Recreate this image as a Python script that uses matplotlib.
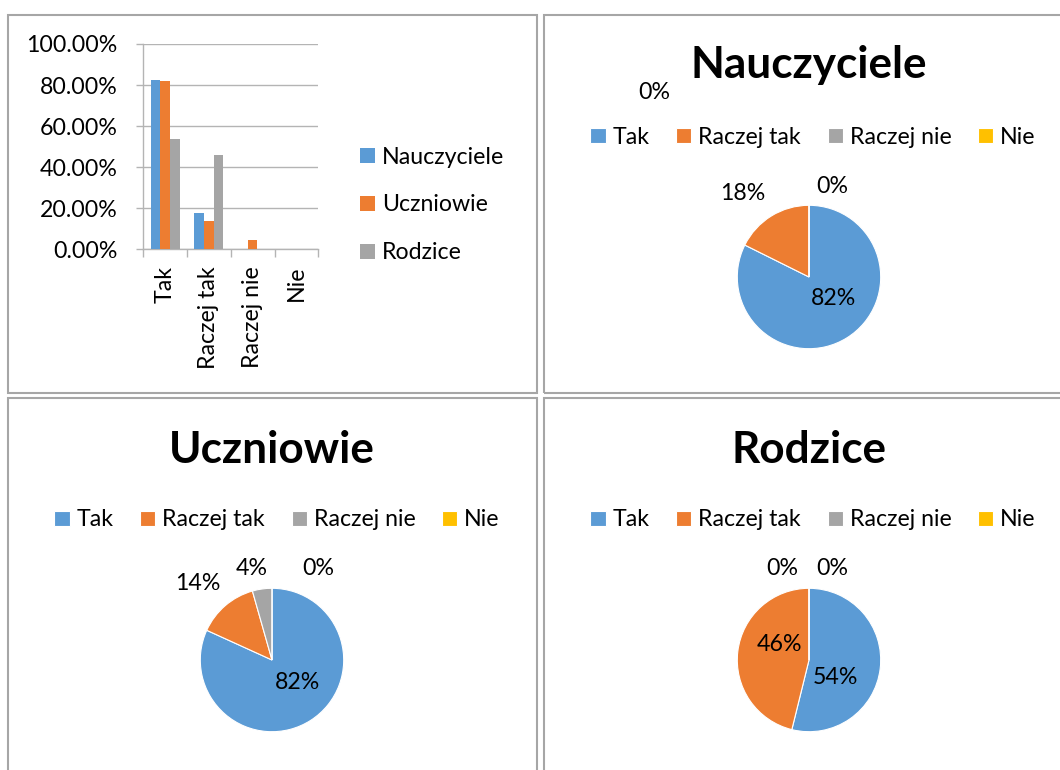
import matplotlib
matplotlib.use('Agg')
import matplotlib.pyplot as plt
from matplotlib.patches import Rectangle
import numpy as np

plt.rcParams['font.family'] = ['Lato', 'DejaVu Sans']

# data
categories = ['Tak', 'Raczej tak', 'Raczej nie', 'Nie']
groups = ['Nauczyciele', 'Uczniowie', 'Rodzice']
nauczyciele = [82.35, 17.65, 0.0, 0.0]
uczniowie = [81.8, 13.8, 4.4, 0.0]
rodzice = [53.85, 46.15, 0.0, 0.0]
series = [nauczyciele, uczniowie, rodzice]

colors = ['#5B9BD5', '#ED7D31', '#A5A5A5', '#FFC000']
border = '#a6a6a6'
grid = '#b4b4b4'

W, H = 1060, 770
FS = 16.7


def rect(x0, y0, x1, y1):
    # pixel box (top-left origin) -> figure fraction
    return [x0 / W, 1 - y1 / H, (x1 - x0) / W, (y1 - y0) / H]


fig = plt.figure(figsize=(W / 100, H / 100), dpi=100)

# panel frames
for x0, y0, x1, y1 in [(8, 15, 537, 393), (544, 15, 1075, 393),
                       (8, 398, 537, 790), (544, 398, 1075, 790)]:
    r = rect(x0, y0, x1, y1)
    fig.add_artist(Rectangle((r[0], r[1]), r[2], r[3], transform=fig.transFigure,
                             fill=False, edgecolor=border, linewidth=1.5))

# bar chart
ax = fig.add_axes(rect(143.3, 44, 318.3, 249.3))
x = np.arange(len(categories))
bw = 0.22
handles = []
for i, (name, vals) in enumerate(zip(groups, series)):
    b = ax.bar(x + (i - 1) * bw, np.array(vals) / 100, width=bw, color=colors[i],
               label=name, zorder=3)
    handles.append(b)
ax.set_xlim(-0.5, len(categories) - 0.5)
ax.set_ylim(0, 1)
ax.set_yticks(np.arange(0, 1.01, 0.2))
ax.set_yticklabels(['%.2f%%' % (v * 100) for v in np.arange(0, 1.01, 0.2)], fontsize=FS)
ax.tick_params(axis='y', length=5, color=grid, pad=13.5, width=1)
ax.set_xticks(x)
ax.set_xticklabels(categories, rotation=90, fontsize=FS, va='top')
ax.set_xticks(np.arange(-0.5, len(categories)), minor=True)
ax.tick_params(axis='x', which='major', length=0, pad=12)
ax.tick_params(axis='x', which='minor', length=6, color=grid, width=1)
ax.yaxis.grid(True, color=grid, linewidth=1, zorder=0)
for s in ['top', 'right']:
    ax.spines[s].set_visible(False)
for s in ['left', 'bottom']:
    ax.spines[s].set_color(grid)
    ax.spines[s].set_linewidth(1)
ax.set_facecolor('none')

fig.legend(handles=handles, loc='center left',
           bbox_to_anchor=(360 / W, 1 - 205 / H), frameon=False, fontsize=FS,
           handlelength=0.65, handleheight=0.65, handletextpad=0.3,
           labelspacing=1.16, borderpad=0, borderaxespad=0)

# pies
R = 71.7
pies = [
    ('Nauczyciele', nauczyciele, (809, 277), 65, 137, 813,
     [(0.34, -0.30), (-0.92, 1.17), (-2.16, 2.58), (0.32, 1.26)]),
    ('Uczniowie', uczniowie, (272, 660), 450, 520, 277,
     [(0.35, -0.32), (-1.04, 1.07), (-0.28, 1.28), (0.64, 1.28)]),
    ('Rodzice', rodzice, (809, 660), 450, 520, 813,
     [(0.37, -0.25), (-0.41, 0.21), (-0.37, 1.28), (0.32, 1.28)]),
]
for title, vals, (cx, cy), ty, ly, lx, offs in pies:
    half = 180
    pa = fig.add_axes(rect(cx - half, cy - half, cx + half, cy + half))
    wedges, _ = pa.pie(vals, colors=colors, startangle=90, counterclock=False,
                       radius=1, wedgeprops=dict(edgecolor='white', linewidth=0.8))
    pa.set_xlim(-half / R, half / R)
    pa.set_ylim(-half / R, half / R)
    pa.axis('off')
    for v, (dx, dy) in zip(vals, offs):
        pa.text(dx, dy, '%d%%' % round(v), ha='center', va='center', fontsize=FS)
    fig.text(cx / W, 1 - ty / H, title, ha='center', va='center',
             fontsize=31.8, fontweight='bold')
    pa.legend(wedges, categories, ncol=4, loc='center',
              bbox_to_anchor=(lx / W, 1 - ly / H), bbox_transform=fig.transFigure,
              frameon=False, fontsize=FS, handlelength=0.65, handleheight=0.65,
              handletextpad=0.3, columnspacing=1.15, borderpad=0)

fig.savefig('out.png', dpi=100)
